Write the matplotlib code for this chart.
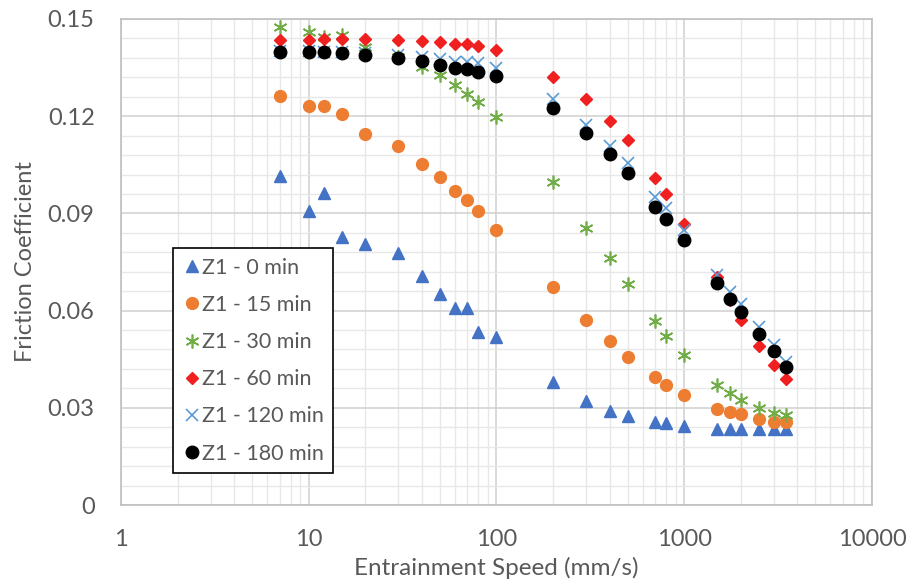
import matplotlib.pyplot as plt
from matplotlib.ticker import FixedLocator, LogLocator, NullFormatter

plt.rcParams['font.family'] = ['Lato', 'DejaVu Sans']

speed = [7, 10, 12, 15, 20, 30, 40, 50, 60, 70, 80, 100, 200, 300, 400, 500,
         700, 800, 1000, 1500, 1750, 2000, 2500, 3000, 3500]

mu_0 = [0.1015, 0.0908, 0.0964, 0.0828, 0.0805, 0.0779, 0.0708, 0.0650, 0.0607,
        0.0607, 0.0535, 0.0519, 0.0380, 0.0321, 0.0290, 0.0276, 0.0255, 0.0252,
        0.0245, 0.0235, 0.0235, 0.0235, 0.0235, 0.0235, 0.0235]
mu_15 = [0.1263, 0.1232, 0.1232, 0.1206, 0.1146, 0.1108, 0.1051, 0.1012, 0.0970,
         0.0940, 0.0906, 0.0849, 0.0673, 0.0570, 0.0505, 0.0456, 0.0394, 0.0370,
         0.0340, 0.0297, 0.0287, 0.0281, 0.0266, 0.0257, 0.0255]
mu_30 = [0.1476, 0.1461, 0.1445, 0.1451, 0.1414, 0.1383, 0.1353, 0.1327, 0.1296,
         0.1268, 0.1245, 0.1199, 0.0998, 0.0854, 0.0761, 0.0681, 0.0569, 0.0522,
         0.0462, 0.0370, 0.0345, 0.0324, 0.0298, 0.0283, 0.0278]
mu_60 = [0.1435, 0.1436, 0.1439, 0.1439, 0.1439, 0.1436, 0.1432, 0.1429, 0.1422,
         0.1422, 0.1418, 0.1405, 0.1322, 0.1253, 0.1184, 0.1126, 0.1008, 0.0960,
         0.0867, 0.0705, 0.0633, 0.0571, 0.0492, 0.0432, 0.0388]
mu_120 = [0.1400, 0.1400, 0.1398, 0.1397, 0.1395, 0.1390, 0.1382, 0.1375, 0.1368,
          0.1366, 0.1364, 0.1348, 0.1253, 0.1173, 0.1108, 0.1055, 0.0951, 0.0916,
          0.0849, 0.0710, 0.0658, 0.0620, 0.0550, 0.0494, 0.0442]
mu_180 = [0.1397, 0.1397, 0.1397, 0.1394, 0.1389, 0.1381, 0.1371, 0.1358, 0.1348,
          0.1345, 0.1337, 0.1325, 0.1226, 0.1147, 0.1082, 0.1024, 0.0921, 0.0883,
          0.0818, 0.0684, 0.0635, 0.0597, 0.0528, 0.0475, 0.0427]

labels = ['Z1 - 0 min', 'Z1 - 15 min', 'Z1 - 30 min', 'Z1 - 60 min',
          'Z1 - 120 min', 'Z1 - 180 min']
y_ticks = [0, 0.03, 0.06, 0.09, 0.12, 0.15]
y_tick_labels = ['0', '0.03', '0.06', '0.09', '0.12', '0.15']
x_ticks = [1, 10, 100, 1000, 10000]

text_color = '#595959'

fig = plt.figure(figsize=(9.09, 5.86), dpi=100)
ax = fig.add_axes([0.1331, 0.1382, 0.8262, 0.8294])

styles = [
    dict(marker='^', color='#4472C4', markersize=8.5, linestyle='none'),
    dict(marker='o', color='#ED7D31', markersize=8.5, linestyle='none'),
    dict(marker=(6, 2, 0), color='#70AD47', markersize=10, markeredgewidth=1.2,
         linestyle='none'),
    dict(marker='D', color='#F02020', markersize=6.5, linestyle='none'),
    dict(marker='x', color='#5B9BD5', markersize=9, markeredgewidth=1.2,
         linestyle='none'),
    dict(marker='o', color='black', markersize=9, linestyle='none'),
]
series = [mu_0, mu_15, mu_30, mu_60, mu_120, mu_180]
for vals, lab, st in zip(series, labels, styles):
    ax.plot(speed, vals, label=lab, **st)

ax.set_xscale('log')
ax.set_xlim(1, 10000)
ax.set_ylim(0, 0.15)
ax.set_xticks(x_ticks)
ax.set_xticklabels([str(t) for t in x_ticks])
ax.xaxis.set_minor_locator(LogLocator(base=10, subs=range(2, 10)))
ax.xaxis.set_minor_formatter(NullFormatter())
ax.set_yticks(y_ticks)
ax.set_yticklabels(y_tick_labels)
ax.yaxis.set_minor_locator(FixedLocator([i * 0.006 for i in range(26)]))

ax.grid(True, which='major', color='#D0D0D0', linewidth=1.1)
ax.grid(True, which='minor', color='#E8E8E8', linewidth=1.0)
ax.set_axisbelow(True)
ax.tick_params(which='both', length=0, labelsize=17, labelcolor=text_color)
ax.tick_params(axis='x', pad=17)
ax.tick_params(axis='y', pad=19)
for s in ax.spines.values():
    s.set_color('#BFBFBF')
    s.set_linewidth(1.2)

ax.set_xlabel('Entrainment Speed (mm/s)', fontsize=17.5, color=text_color, labelpad=5)
ax.set_ylabel('Friction Coefficient', fontsize=17, color=text_color, labelpad=8)

leg = ax.legend(loc='upper left', bbox_to_anchor=(0.069, 0.529), fontsize=15.5,
                frameon=True, fancybox=False, edgecolor='black', framealpha=1,
                handletextpad=0.0, handlelength=0.9, labelspacing=0.8,
                borderpad=0.45, borderaxespad=0)
leg.get_frame().set_linewidth(1.2)
for t in leg.get_texts():
    t.set_color(text_color)

fig.savefig('out.png', dpi=100)
